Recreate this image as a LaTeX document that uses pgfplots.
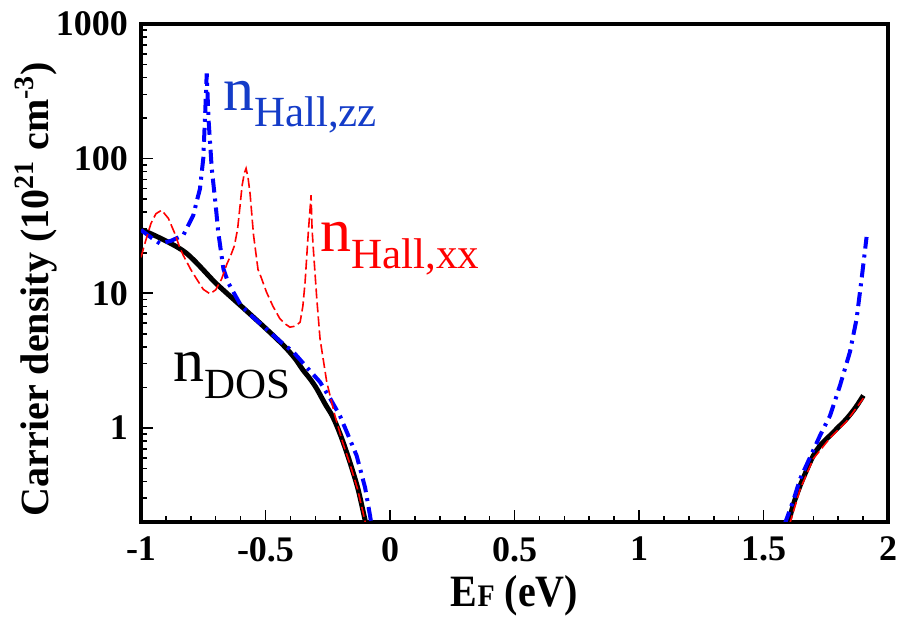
\documentclass[border=0pt]{standalone}
\usepackage{fontspec}
\setmainfont{Liberation Serif}
\usepackage{pgfplots}
\pgfplotsset{compat=1.18}
\definecolor{labelblue}{RGB}{20,60,200}
\begin{document}
\begin{tikzpicture}
\begin{axis}[
 name=main,
 scale only axis,
 width=373.5pt, height=249pt,
 ymode=log,
 xmin=-1, xmax=2, ymin=0.2, ymax=1000,
 axis line style={line width=1.6pt},
 tick style={line width=0.8pt, black},
 tick align=inside,
 tick pos=left,
 xtick={-1,-0.5,0,0.5,1,1.5,2},
 xticklabels={-1,-0.5,0,0.5,1,1.5,2},
 minor x tick num=4,
 ytick={1,10,100,1000},
 yticklabels={1,10,100,1000},
 minor ytick={0.2,0.3,0.4,0.5,0.6,0.7,0.8,0.9,2,3,4,5,6,7,8,9,20,30,40,50,60,70,80,90,200,300,400,500,600,700,800,900},
 major tick length=6pt, minor tick length=3pt,
 ticklabel style={font=\bfseries\fontsize{18}{18}\selectfont},
 /pgf/number format/assume math mode=true,
 xticklabel style={yshift=-4pt},
 yticklabel style={xshift=-3pt},
 xlabel={\scalebox{1}[1.12]{E{\fontsize{14}{14}\selectfont F} (eV)}},
 ylabel={Carrier density (10\textsuperscript{21} cm\textsuperscript{-3})},
 label style={font=\bfseries\fontsize{20}{20}\selectfont},
 xlabel style={at={(axis description cs:0.50,0)}, anchor=center, yshift=-37pt},
 ylabel style={at={(axis description cs:-0.1406,0.468)}, anchor=center},
]
% n_DOS (black)
\addplot[black, line width=2.5pt, smooth] coordinates {
(-1.00,29.7) (-0.97,28.2) (-0.94,26.6) (-0.91,25.0) (-0.88,23.4) (-0.85,21.8)
(-0.82,20.0) (-0.79,17.8) (-0.76,15.6) (-0.73,13.6) (-0.70,11.9) (-0.65,9.8)
(-0.60,8.1) (-0.562,7.0) (-0.50,5.5) (-0.45,4.5)
(-0.415,3.87) (-0.38,3.25) (-0.35,2.7) (-0.32,2.3) (-0.294,1.95) (-0.26,1.5)
(-0.234,1.25) (-0.214,1.04) (-0.19,0.80) (-0.161,0.556) (-0.13,0.36) (-0.107,0.236) (-0.096,0.19)
};
\addplot[black, line width=2.5pt, smooth] coordinates {
(1.598,0.19) (1.62,0.27) (1.647,0.372) (1.67,0.47) (1.700,0.622) (1.73,0.75)
(1.767,0.877) (1.80,1.01) (1.834,1.17) (1.87,1.42) (1.901,1.74)
};
% n_Hall,zz (blue)
\addplot[blue, line width=2pt, dash pattern=on 7pt off 3pt on 1.5pt off 3pt] coordinates {
(-1.00,29.5) (-0.96,26.0) (-0.924,23.4) (-0.88,24.5) (-0.83,27) (-0.79,38)
(-0.763,60) (-0.750,100) (-0.743,199) (-0.736,430) (-0.729,199) (-0.716,85)
(-0.70,45) (-0.690,28.6) (-0.669,15.2) (-0.65,12.0) (-0.629,10.2) (-0.60,8.2)
(-0.562,6.95) (-0.50,5.5) (-0.442,4.4) (-0.388,3.66) (-0.34,2.9) (-0.281,2.19)
(-0.24,1.65) (-0.201,1.23) (-0.17,0.9) (-0.134,0.622) (-0.10,0.36) (-0.080,0.222) (-0.07,0.17)
};
\addplot[blue, line width=2pt, dash pattern=on 7pt off 3pt on 1.5pt off 3pt] coordinates {
(1.584,0.19) (1.62,0.29) (1.647,0.418) (1.687,0.605) (1.727,0.877) (1.767,1.23)
(1.807,2.06) (1.847,3.66) (1.874,6.47) (1.894,12.8) (1.914,26.2)
};
% n_Hall,xx (red)
\addplot[red, line width=0.8pt, dash pattern=on 5pt off 2pt] coordinates {
(-1.00,18.5) (-0.98,25) (-0.96,33) (-0.94,39) (-0.917,41.4) (-0.89,36) (-0.865,28)
(-0.843,21.5) (-0.83,19.1) (-0.80,15) (-0.777,12.8) (-0.75,10.7) (-0.723,9.9)
(-0.70,10.6) (-0.676,12.8) (-0.655,16.5) (-0.64,19) (-0.625,22.5) (-0.612,30) (-0.602,45)
(-0.594,63) (-0.585,78) (-0.578,84.6) (-0.57,72) (-0.562,55) (-0.548,27)
(-0.53,15) (-0.52,13.5) (-0.496,10.2) (-0.47,8) (-0.442,6.46) (-0.42,5.9)
(-0.402,5.6) (-0.38,5.7) (-0.361,6.1) (-0.35,8) (-0.341,12.1) (-0.328,28.5)
(-0.320,45) (-0.317,53.5) (-0.313,30) (-0.308,21.5) (-0.294,9.1) (-0.281,4.59)
(-0.254,2.19) (-0.221,1.23) (-0.19,0.78) (-0.161,0.54) (-0.13,0.35) (-0.107,0.23) (-0.097,0.19)
};
\addplot[red, line width=0.8pt, dash pattern=on 5pt off 2pt] coordinates {
(1.604,0.19) (1.647,0.35) (1.70,0.59) (1.767,0.84) (1.834,1.12) (1.901,1.66)
};
\node[anchor=base west, inner sep=0, text=labelblue] at (axis cs:-0.672,229)
 {\fontsize{31}{31}\selectfont n\raisebox{-8.3pt}{\fontsize{21.5}{21.5}\selectfont Hall,zz}};
\node[anchor=base west, inner sep=0, text=red] at (axis cs:-0.281,20.4)
 {\fontsize{31}{31}\selectfont n\raisebox{-8.3pt}{\fontsize{21.5}{21.5}\selectfont Hall,xx}};
\node[anchor=base west, inner sep=0, text=black] at (axis cs:-0.871,2.2)
 {\fontsize{31}{31}\selectfont n\raisebox{-8.3pt}{\fontsize{21.5}{21.5}\selectfont DOS}};
\end{axis}
\pgfresetboundingbox
\path[use as bounding box] ([xshift=-70.5pt,yshift=-48pt]main.south west) rectangle ([xshift=4.5pt,yshift=12pt]main.north east);
\end{tikzpicture}
\end{document}
